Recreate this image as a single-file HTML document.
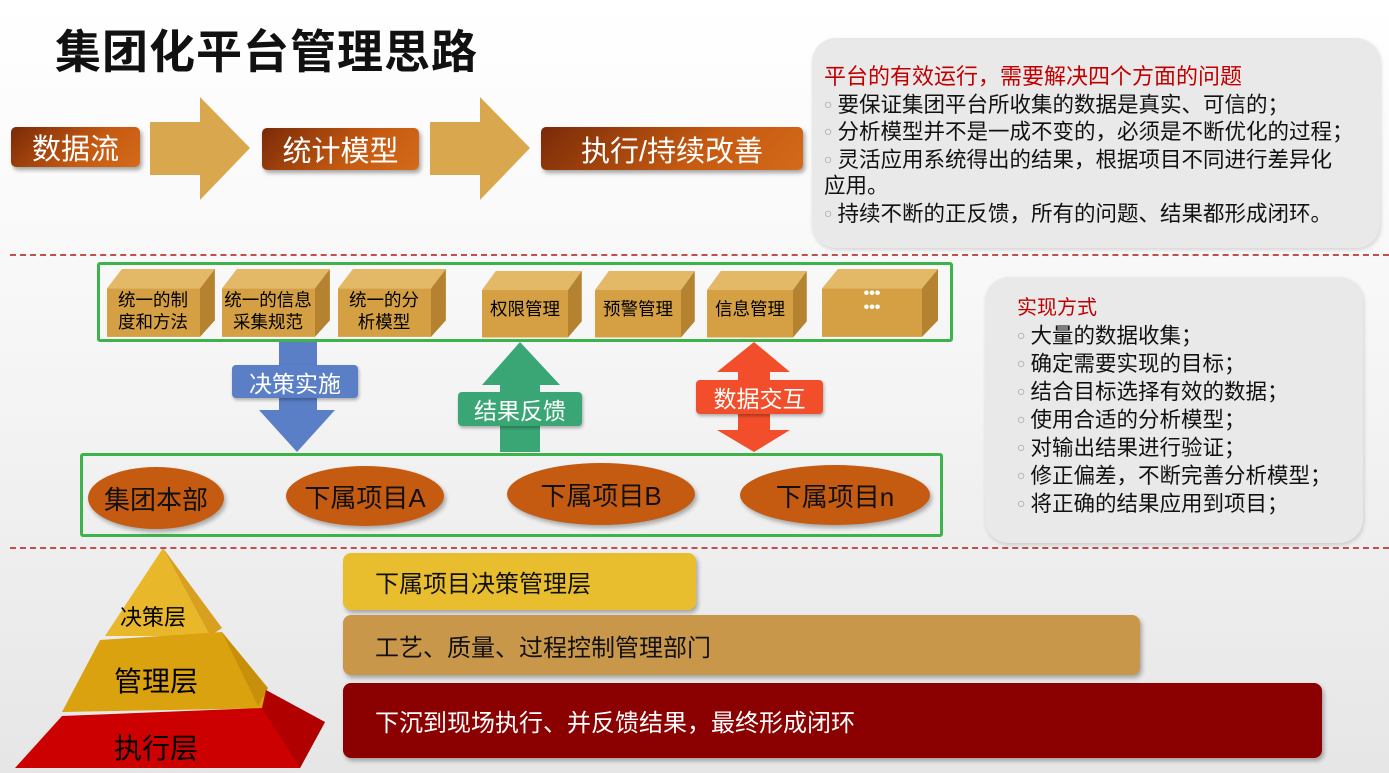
<!DOCTYPE html>
<html><head><meta charset="utf-8"><style>
*{margin:0;padding:0;box-sizing:border-box}
body{width:1389px;height:773px;overflow:hidden;background:linear-gradient(#fff 0%,#f7f7f7 40%,#e6e6e6 100%);font-family:"Liberation Sans","Noto Sans CJK SC",sans-serif;position:relative}
.a{position:absolute}
.bx{position:absolute;color:#fff;background:linear-gradient(135deg,#7a2a08,#c55a11 60%,#d46a1a);border-radius:5px;box-shadow:2px 3px 4px rgba(0,0,0,.35);display:flex;align-items:center;justify-content:center;font-size:29px}
.panel{position:absolute;background:#e9e9e9;border-radius:24px;box-shadow:1px 2px 4px rgba(0,0,0,.15)}
.panel p{font-size:21.5px;line-height:26.5px;color:#111;white-space:nowrap}
.panel p.t{color:#c00000;font-size:22px}
.dot{color:#999;font-size:14px;vertical-align:3px;margin-right:5px}
.dash{position:absolute;left:10px;width:1379px;border-top:2px dashed #c0504d}
.ell{position:absolute;background:#c55a11;border-radius:50%;display:flex;align-items:center;justify-content:center;font-size:26px;color:#111;box-shadow:2px 3px 4px rgba(0,0,0,.3)}
.lab{position:absolute;color:#fff;font-size:23px;display:flex;align-items:center;justify-content:center;border-radius:4px;box-shadow:1px 2px 3px rgba(0,0,0,.3)}
.bar{position:absolute;border-radius:8px;display:flex;align-items:center;padding-left:32px;font-size:24px;box-shadow:2px 3px 4px rgba(0,0,0,.3)}
.ct{position:absolute;text-align:center;font-size:17.5px;line-height:22px}
</style></head><body>
<div class="a" style="left:55px;top:16px;font-size:46px;font-weight:bold;color:#111;letter-spacing:1px">集团化平台管理思路</div>
<svg class="a" style="left:0;top:0" width="1389" height="773">
<polygon points="150,122 200,122 200,97 250,148 200,200 200,175 150,175" fill="#d9a84e"/>
<polygon points="430,122 480,122 480,97 530,148 480,200 480,175 430,175" fill="#d9a84e"/>
<polygon points="279,342 317,342 317,410 335,410 297,452 259,410 279,410" fill="#5b7fc7"/>
<polygon points="500,452 540,452 540,385 560,385 520,342 482,385 500,385" fill="#3aa676"/>
<polygon points="738,372 738,430 717,430 754,452 790,430 770,430 770,372 790,372 754,342 717,372" fill="#f24e2b"/>
<polygon points="163,548 105,636 210,636" fill="#e8b82a"/>
<polygon points="163,548 210,636 222,628" fill="#d9a020"/>
<polygon points="100,640 222,632 280,708 62,712" fill="#d9a20e"/>
<polygon points="222,632 268,688 258,706" fill="#c88f0a"/>
<polygon points="62,716 262,708 325,722 300,768 15,768" fill="#cc0000"/>
<polygon points="266,690 325,722 300,768 262,708" fill="#b00000"/>
</svg>
<div class="bx" style="left:11px;top:127px;width:129px;height:40px">数据流</div>
<div class="bx" style="left:262px;top:128px;width:157px;height:42px">统计模型</div>
<div class="bx" style="left:541px;top:127px;width:262px;height:43px">执行/持续改善</div>
<div class="panel" style="left:812px;top:38px;width:568px;height:210px;padding:26px 0 0 12px">
<p class="t">平台的有效运行，需要解决四个方面的问题</p>
<p><span class="dot">○</span>要保证集团平台所收集的数据是真实、可信的；</p>
<p><span class="dot">○</span>分析模型并不是一成不变的，必须是不断优化的过程；</p>
<p><span class="dot">○</span>灵活应用系统得出的结果，根据项目不同进行差异化</p>
<p>应用。</p>
<p><span class="dot">○</span>持续不断的正反馈，所有的问题、结果都形成闭环。</p>
</div>
<div class="dash" style="top:254px"></div>
<div class="dash" style="top:547px"></div>
<div class="a" style="left:97px;top:262px;width:856px;height:80px;border:3px solid #3cb44b;border-radius:3px"></div>
<div class="a" style="left:80px;top:453px;width:863px;height:84px;border:3px solid #3cb44b;border-radius:3px"></div>
<svg class="a" style="left:0;top:0" width="1389" height="773">
<defs><g id="c"><polygon points="0,20 16,0 116,0 100,20" fill="#e3b866"/><polygon points="100,20 116,0 116,53 100,70" fill="#b58330"/><rect x="0" y="20" width="100" height="50" fill="#d4a043"/></g></defs>
<g transform="translate(107,269)"><use href="#c" transform="scale(0.93,0.97)"/></g>
<g transform="translate(222,269)"><use href="#c" transform="scale(0.93,0.97)"/></g>
<g transform="translate(338,269)"><use href="#c" transform="scale(0.93,0.97)"/></g>
<g transform="translate(482,271)"><use href="#c" transform="scale(0.86,0.95)"/></g>
<g transform="translate(595,271)"><use href="#c" transform="scale(0.86,0.95)"/></g>
<g transform="translate(707,271)"><use href="#c" transform="scale(0.86,0.95)"/></g>
<g transform="translate(822,269)"><use href="#c" transform="scale(1.0,0.97)"/></g>
</svg>
<div class="ct" style="left:104px;top:289px;width:98px">统一的制<br>度和方法</div>
<div class="ct" style="left:219px;top:289px;width:98px">统一的信息<br>采集规范</div>
<div class="ct" style="left:335px;top:289px;width:98px">统一的分<br>析模型</div>
<div class="ct" style="left:482px;top:298px;width:86px">权限管理</div>
<div class="ct" style="left:595px;top:298px;width:86px">预警管理</div>
<div class="ct" style="left:707px;top:298px;width:86px">信息管理</div>
<div class="a" style="left:822px;top:287px;width:100px;text-align:center;font-size:16px;line-height:14px;color:#fff;font-weight:bold">•••<br>•••</div>
<div class="lab" style="left:232px;top:365px;width:126px;height:33px;background:#5b7fc7">决策实施</div>
<div class="lab" style="left:458px;top:392px;width:124px;height:34px;background:#3aa676">结果反馈</div>
<div class="lab" style="left:696px;top:380px;width:127px;height:34px;background:#f24e2b">数据交互</div>
<div class="ell" style="left:88px;top:467px;width:136px;height:62px">集团本部</div>
<div class="ell" style="left:286px;top:466px;width:158px;height:60px">下属项目A</div>
<div class="ell" style="left:507px;top:463px;width:188px;height:62px">下属项目B</div>
<div class="ell" style="left:740px;top:465px;width:190px;height:60px">下属项目n</div>
<div class="panel" style="left:985px;top:277px;width:378px;height:266px;padding:18px 0 0 32px">
<p class="t" style="font-size:20px">实现方式</p>
<p style="line-height:27px"><span class="dot">○</span>大量的数据收集；</p>
<p style="line-height:27px"><span class="dot">○</span>确定需要实现的目标；</p>
<p style="line-height:27px"><span class="dot">○</span>结合目标选择有效的数据；</p>
<p style="line-height:27px"><span class="dot">○</span>使用合适的分析模型；</p>
<p style="line-height:27px"><span class="dot">○</span>对输出结果进行验证；</p>
<p style="line-height:27px"><span class="dot">○</span>修正偏差，不断完善分析模型；</p>
<p style="line-height:27px"><span class="dot">○</span>将正确的结果应用到项目；</p>
</div>
<div class="a" style="left:120px;top:600px;font-size:22px">决策层</div>
<div class="a" style="left:114px;top:660px;font-size:28px">管理层</div>
<div class="a" style="left:114px;top:727px;font-size:28px">执行层</div>
<div class="bar" style="left:343px;top:553px;width:353px;height:57px;background:#e8be2e;color:#111">下属项目决策管理层</div>
<div class="bar" style="left:343px;top:615px;width:797px;height:60px;background:#c9974a;color:#111">工艺、质量、过程控制管理部门</div>
<div class="bar" style="left:343px;top:683px;width:979px;height:75px;background:#8b0000;color:#fff">下沉到现场执行、并反馈结果，最终形成闭环</div>
</body></html>
